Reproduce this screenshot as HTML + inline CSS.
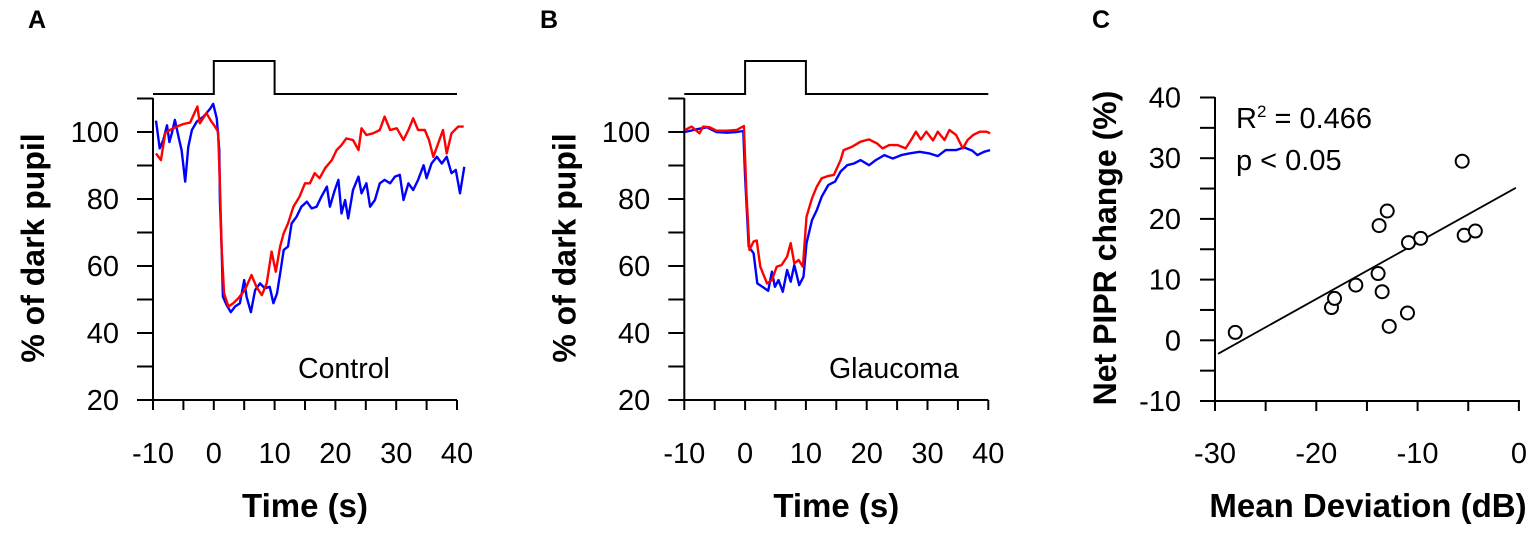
<!DOCTYPE html>
<html><head><meta charset="utf-8"><style>
body{margin:0;background:#fff;}
svg{display:block;font-family:"Liberation Sans",Arial,sans-serif;}
</style></head><body>
<svg id="fig" width="1536" height="533" viewBox="0 0 1536 533">
<g id="gA"></g>
<g id="gB"></g>
<g id="gC"></g>
</svg>
<script>
const NS="http://www.w3.org/2000/svg";
// Panel A (Control)
const aBlueT=[-9.5,-8.9,-8.3,-7.7,-7.3,-6.9,-6.4,-5.8,-5.3,-4.7,-4.2,-3.6,-2.8,-1.7,-0.6,-0.1,0.5,0.9,1.0,1.3,1.5,2.1,2.8,3.5,4.3,5.0,5.4,6.1,6.8,7.6,8.4,9.2,9.8,10.4,11.0,11.5,12.2,12.8,13.6,14.4,15.3,16.1,16.9,17.7,18.6,19.1,19.9,20.5,21.0,21.6,22.1,22.9,23.8,24.3,25.1,25.7,26.5,27.3,28.1,29.0,29.8,30.6,31.2,32.0,32.8,33.6,34.5,35.0,35.8,36.7,37.5,38.3,39.1,39.8,40.5,41.2];
const aBlueV=[103.4,95.1,97.6,102,97,99.6,103.6,98.6,94.6,85.2,95.6,100.6,103.1,104.6,107,108.4,104,94.6,79.7,64.8,50.8,48.4,46.2,47.9,48.9,55.8,50.8,46.2,52.8,54.8,53.3,53.8,48.9,51.8,58.8,64.8,65.8,72.7,74.7,77.7,79.2,77.2,77.7,80.7,83.7,77.7,82.7,85.7,75.7,79.7,74.2,82.7,86.7,81.7,84.7,77.7,79.7,84.7,85.7,84.7,86.7,87.2,79.7,84.7,82.7,85.7,90.1,86.2,90.6,92.6,90.6,92.6,87.7,88.7,81.7,89.6];
const aRedT=[-9.5,-8.7,-8.0,-7.2,-6.1,-5.0,-3.9,-2.7,-2.3,-1.2,-0.4,0.2,0.7,1.0,1.3,1.7,2.4,3.2,4.0,5.1,6.2,7.0,7.9,8.7,9.5,10.2,10.9,11.5,12.2,13.1,14.1,15.0,15.8,16.6,17.4,18.3,19.4,20.2,21.0,21.8,22.9,23.8,24.3,25.1,26.2,27.3,28.1,29.0,30.1,31.2,32.0,32.8,33.6,34.7,35.4,36.1,36.9,37.7,38.3,39.1,40.2,41.1];
const aRedV=[93.6,91.6,99.6,100.6,101.6,102.4,102.8,107.6,102.6,105.6,103.1,101.6,100.1,84.7,64.8,51.8,47.9,48.9,50.3,52.8,57.3,53.8,51.3,54.8,64.3,58.3,65.8,69.8,72.7,77.7,80.7,84.7,84.7,87.7,86.2,89.2,91.6,94.6,96.1,98.1,97.6,94.6,101.1,99.1,99.6,100.6,104.6,100.6,101.1,97.6,100.6,104.1,100.6,100.6,97.6,92.6,96.6,100.6,93.6,99.6,101.6,101.6];
// Panel B (Glaucoma)
const bBlueT=[-9.9,-8.0,-6.3,-4.7,-3.0,-1.4,-0.3,0,0.6,1.4,2.0,3.0,3.8,4.4,4.9,5.5,6.2,6.9,7.5,8.1,8.9,9.6,10.1,11.0,11.8,12.6,13.7,14.8,15.7,16.8,17.9,19.0,20.4,21.5,22.9,24.3,25.7,27.0,28.7,30.3,31.7,33.0,34.7,36.0,37.4,38.2,39.3,40.3];
const bBlueV=[100,100.8,101.4,100,99.8,100,100.3,86.7,65.8,63.8,54.8,53.6,52.6,58.3,53.8,55.8,52.3,58.8,55.3,60.3,54.3,56.8,66.8,73.7,76.7,80.7,84.2,85.2,88.2,90.1,90.6,91.6,90.1,91.6,93.1,92.1,93.1,93.6,94.1,93.6,92.8,94.6,94.6,95.4,94.4,93.1,94.1,94.6];
const bRedT=[-9.9,-8.8,-7.5,-6.9,-5.8,-4.7,-3.0,-1.4,-0.2,0.2,0.7,1.4,1.9,2.5,3.6,4.4,5.2,6.0,6.9,7.5,8.1,8.8,9.5,10.1,11.0,11.8,12.6,13.7,14.6,15.7,16.2,17.6,19.0,20.4,21.7,22.6,23.7,25.1,26.4,27.3,28.1,28.9,29.8,30.9,31.7,32.8,33.6,34.7,35.8,36.6,37.5,38.6,39.7,40.3];
const bRedV=[100.6,101.6,99.6,101.6,101.4,100.4,100.4,100.6,101.8,82.7,64.8,67.3,67.6,59.8,54.8,55.8,59.8,60.3,62.8,66.8,60.8,61.8,59.8,74.7,80.2,83.7,86.2,86.9,87.2,91.6,94.6,95.6,97.1,97.8,96.6,95.1,96.1,96.1,95.1,97.6,100.1,97.8,100.1,97.5,100.1,97.6,100.6,99.1,95.1,97.6,99.1,100.1,100.1,99.6];
const timeTicks=[-10,0,10,20,30,40];
const pctTicks=[20,40,60,80,100];
// Panel C
const mdX=[-28.0,-18.5,-18.2,-16.1,-13.9,-13.5,-13.8,-13.0,-12.8,-11.0,-10.9,-9.7,-5.6,-5.4,-4.3];
const piprY=[1.3,5.4,6.9,9.1,11.0,8.0,18.9,21.3,2.3,4.5,16.1,16.8,29.5,17.3,18.0];
const fitSlope=0.93, fitIntercept=25.4;
const mdTicks=[-30,-20,-10,0];
const piprTicks=[-10,0,10,20,30,40];

function mk(p,tag,attrs,txt){const e=document.createElementNS(NS,tag);for(const k in attrs)e.setAttribute(k,attrs[k]);if(txt!==undefined)e.textContent=txt;p.appendChild(e);return e;}

function tracePanel(g,x0,letter,letterX,label,labelX,blueT,blueV,redT,redV){
  const sx=t=>x0+(t+10)*6.08, sy=v=>400-(v-20)*3.35;
  const ax=mk(g,'path',{d:`M${x0} 98V400H${sx(40)}`,stroke:'#000','stroke-width':2,fill:'none'});
  
  for(let v=20;v<=110;v+=10){const tk=mk(g,'line',{x1:x0-16,x2:x0,y1:sy(v),y2:sy(v),stroke:'#000','stroke-width':2});
    }
  for(let t=-10;t<=40;t+=5){const tk=mk(g,'line',{x1:sx(t),x2:sx(t),y1:400,y2:410,stroke:'#000','stroke-width':2});
    }
  pctTicks.forEach(v=>{const l=mk(g,'text',{x:x0-34,y:sy(v)+10,'text-anchor':'end','font-size':29},v);
    });
  timeTicks.forEach(t=>{const l=mk(g,'text',{x:sx(t),y:463,'text-anchor':'middle','font-size':29},t);
    });
  const xt=mk(g,'text',{x:sx(15),y:517,'text-anchor':'middle','font-size':33,'font-weight':'bold'},'Time (s)');
  
  const yt=mk(g,'text',{transform:`translate(${x0-109},248) rotate(-90)`,'text-anchor':'middle','font-size':32,'font-weight':'bold'},'% of dark pupil');
  
  const st=mk(g,'path',{d:`M${x0} 94H${sx(0)}V61H${sx(10)}V94H${sx(40)}`,stroke:'#000','stroke-width':2,fill:'none'});
  
  const b=mk(g,'polyline',{points:blueT.map((t,i)=>sx(t).toFixed(1)+','+sy(blueV[i]).toFixed(1)).join(' '),stroke:'#0000ff','stroke-width':2.4,fill:'none','stroke-linejoin':'round'});
  
  const r=mk(g,'polyline',{points:redT.map((t,i)=>sx(t).toFixed(1)+','+sy(redV[i]).toFixed(1)).join(' '),stroke:'#ff0000','stroke-width':2.4,fill:'none','stroke-linejoin':'round'});
  
  const lb=mk(g,'text',{x:labelX,y:378,'font-size':28.5},label);
  
  const pl=mk(g,'text',{x:letterX,y:28,'font-size':25,'font-weight':'bold'},letter);
  
}
tracePanel(document.getElementById('gA'),153,'A',28,'Control',298,aBlueT,aBlueV,aRedT,aRedV);
tracePanel(document.getElementById('gB'),684.3,'B',540,'Glaucoma',829,bBlueT,bBlueV,bRedT,bRedV);

(function(){
  const g=document.getElementById('gC');
  const sx=v=>1215+(v+30)*10.13, sy=v=>401-(v+10)*6.07;
  const ax=mk(g,'path',{d:`M1215 97V401H1520`,stroke:'#000','stroke-width':2,fill:'none'});
  
  for(let v=-10;v<=40;v+=5){const tk=mk(g,'line',{x1:1200,x2:1215,y1:sy(v),y2:sy(v),stroke:'#000','stroke-width':2});
    }
  for(let v=-30;v<=0;v+=5){const tk=mk(g,'line',{x1:sx(v),x2:sx(v),y1:401,y2:411,stroke:'#000','stroke-width':2});
    }
  piprTicks.forEach(v=>{const l=mk(g,'text',{x:1181,y:sy(v)+10,'text-anchor':'end','font-size':29},v);
    });
  mdTicks.forEach(v=>{const l=mk(g,'text',{x:sx(v),y:463,'text-anchor':'middle','font-size':29},v);
    });
  const xt=mk(g,'text',{x:1368,y:517,'text-anchor':'middle','font-size':33,'font-weight':'bold'},'Mean Deviation (dB)');
  
  const yt=mk(g,'text',{transform:'translate(1116,248) rotate(-90)','text-anchor':'middle','font-size':32,'font-weight':'bold'},'Net PIPR change (%)');
  
  const fl=mk(g,'line',{x1:sx(-29.7),y1:sy(fitIntercept+fitSlope*-29.7),x2:sx(-0.3),y2:sy(fitIntercept+fitSlope*-0.3),stroke:'#000','stroke-width':1.8});
  
  mdX.forEach((x,i)=>{const c=mk(g,'circle',{cx:sx(x),cy:sy(piprY[i]),r:6.5,fill:'#fff',stroke:'#000','stroke-width':2});
    });
  const r2=mk(g,'text',{x:1236,y:128,'font-size':29},'');
  
  r2.appendChild(document.createTextNode('R'));
  mk(r2,'tspan',{dy:-11,'font-size':17},'2');
  mk(r2,'tspan',{dy:11},' = 0.466');
  const p=mk(g,'text',{x:1236,y:170,'font-size':29},'p < 0.05');
  
  const pl=mk(g,'text',{x:1092,y:28,'font-size':25,'font-weight':'bold'},'C');
  
})();
</script>
</body></html>
